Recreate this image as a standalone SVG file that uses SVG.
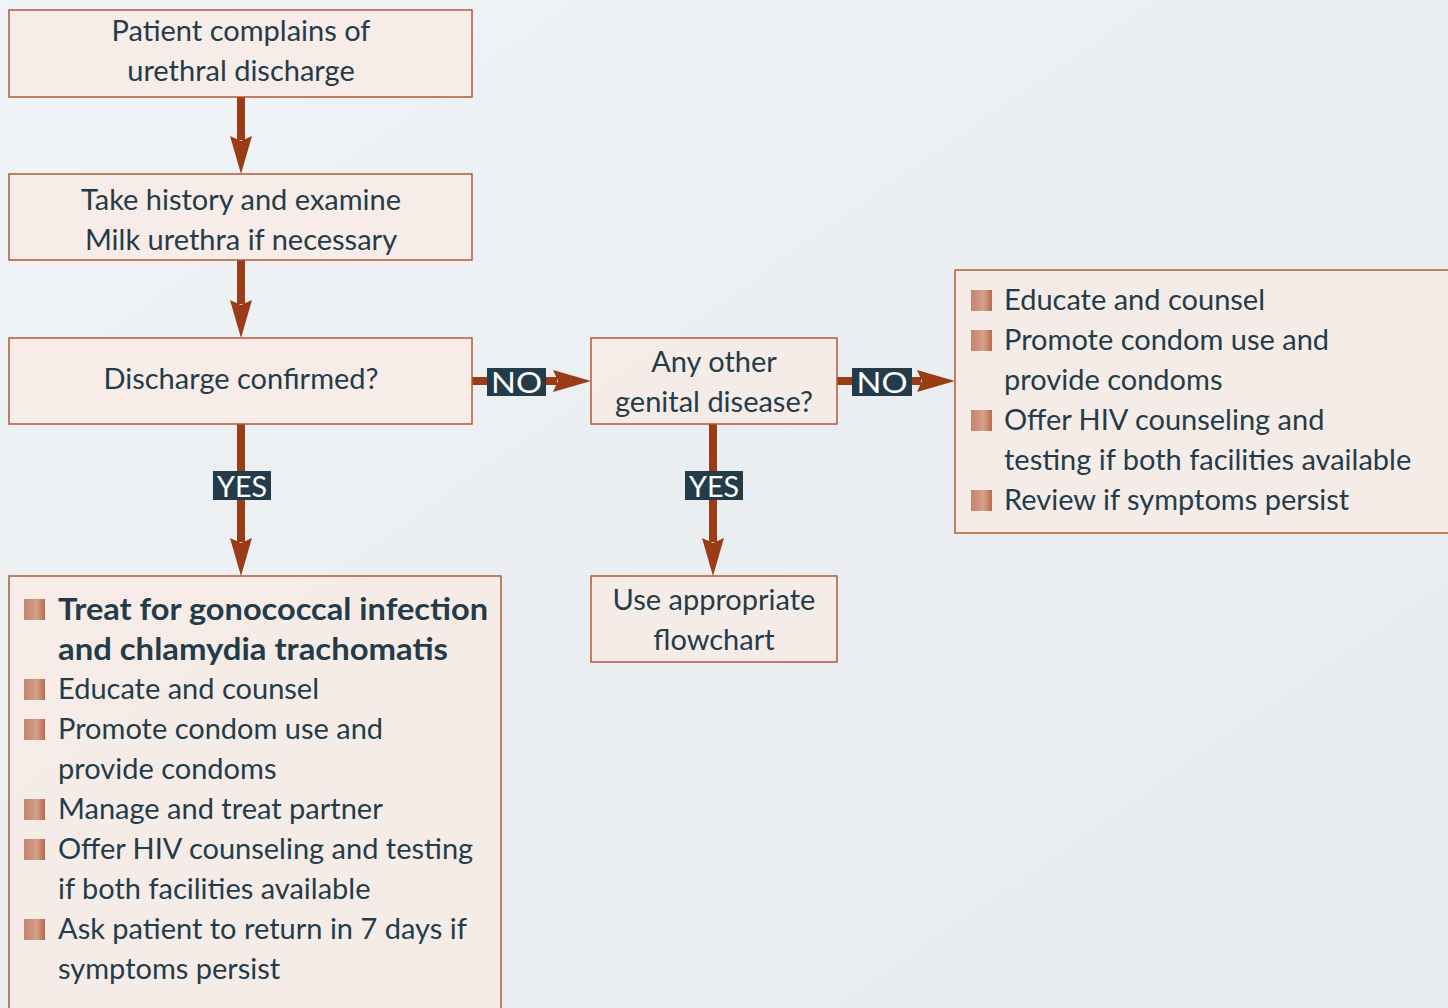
<svg xmlns="http://www.w3.org/2000/svg" width="1448" height="1008" viewBox="0 0 1448 1008">
<defs>
<linearGradient id="bg" x1="0" y1="0" x2="1" y2="1">
<stop offset="0" stop-color="#f1f4f7"/>
<stop offset="0.5" stop-color="#ebeef1"/>
<stop offset="1" stop-color="#e9ecee"/>
</linearGradient>
<linearGradient id="bul" x1="0" y1="0" x2="1" y2="0">
<stop offset="0" stop-color="#c4836a"/>
<stop offset="0.6" stop-color="#d4a08c"/>
<stop offset="1" stop-color="#b8694c"/>
</linearGradient>
<marker id="ah" viewBox="0 0 38 22" refX="4" refY="11" markerWidth="38" markerHeight="22" markerUnits="userSpaceOnUse" orient="auto">
<path d="M0,0 L38,11 L0,22 L5,11 Z" fill="#9a3c18"/>
</marker>
<style>
.box{fill:#f7ebe6;fill-opacity:0.9;stroke:#b35a3a;stroke-width:1.5}
.t{font-family:Lato,"Open Sans","Liberation Sans",sans-serif;font-size:29px;fill:#243c4a}
.c{text-anchor:middle}
.b{font-weight:bold;font-size:30px}
.line{stroke:#9a3c18;stroke-width:8;fill:none}
.lab{fill:#243c4a}
.lt{font-family:Lato,"Open Sans","Liberation Sans",sans-serif;font-size:29px;fill:#ffffff;text-anchor:middle}
.sq{fill:url(#bul)}
</style>
</defs>
<rect x="0" y="0" width="1448" height="1008" fill="url(#bg)"/>
<g id="connectors">
<line class="line" x1="241" y1="97" x2="241" y2="140" marker-end="url(#ah)"/>
<line class="line" x1="241" y1="260" x2="241" y2="304" marker-end="url(#ah)"/>
<line class="line" x1="472" y1="381" x2="557" y2="381" marker-end="url(#ah)"/>
<line class="line" x1="837" y1="381" x2="921" y2="381" marker-end="url(#ah)"/>
<line class="line" x1="241" y1="424" x2="241" y2="542" marker-end="url(#ah)"/>
<line class="line" x1="713" y1="424" x2="713" y2="542" marker-end="url(#ah)"/>
<rect class="lab" x="487" y="368" width="59" height="28"/>
<text class="lt" x="516.5" y="393" textLength="51" lengthAdjust="spacingAndGlyphs">NO</text>
<rect class="lab" x="852" y="368" width="60" height="28"/>
<text class="lt" x="882" y="393" textLength="51" lengthAdjust="spacingAndGlyphs">NO</text>
<rect class="lab" x="213" y="471" width="58" height="29"/>
<text class="lt" x="242" y="497" textLength="50" lengthAdjust="spacingAndGlyphs">YES</text>
<rect class="lab" x="685" y="471" width="58" height="29"/>
<text class="lt" x="714" y="497" textLength="50" lengthAdjust="spacingAndGlyphs">YES</text>
</g>
<g id="n1">
<rect class="box" x="9" y="10" width="463" height="87"/>
<text class="t c" x="241" y="41">Patient complains of</text>
<text class="t c" x="241" y="81">urethral discharge</text>
</g>
<g id="n2">
<rect class="box" x="9" y="174" width="463" height="86"/>
<text class="t c" x="241" y="210">Take history and examine</text>
<text class="t c" x="241" y="250">Milk urethra if necessary</text>
</g>
<g id="n3">
<rect class="box" x="9" y="338" width="463" height="86"/>
<text class="t c" x="241" y="389">Discharge confirmed?</text>
</g>
<g id="n4">
<rect class="box" x="591" y="338" width="246" height="86"/>
<text class="t c" x="714" y="372">Any other</text>
<text class="t c" x="714" y="412">genital disease?</text>
</g>
<g id="n5">
<rect class="box" x="955" y="270" width="500" height="263"/>
<rect class="sq" x="971" y="290" width="21" height="21"/>
<text class="t" x="1004" y="310">Educate and counsel</text>
<rect class="sq" x="971" y="330" width="21" height="21"/>
<text class="t" x="1004" y="350">Promote condom use and</text>
<text class="t" x="1004" y="390">provide condoms</text>
<rect class="sq" x="971" y="410" width="21" height="21"/>
<text class="t" x="1004" y="430">Offer HIV counseling and</text>
<text class="t" x="1004" y="470">testing if both facilities available</text>
<rect class="sq" x="971" y="490" width="21" height="21"/>
<text class="t" x="1004" y="510">Review if symptoms persist</text>
</g>
<g id="n6">
<rect class="box" x="591" y="576" width="246" height="86"/>
<text class="t c" x="714" y="610">Use appropriate</text>
<text class="t c" x="714" y="650">flowchart</text>
</g>
<g id="n7">
<rect class="box" x="9" y="576" width="492" height="440"/>
<rect class="sq" x="24" y="599" width="21" height="21"/>
<text class="t b" x="58" y="620" textLength="430" lengthAdjust="spacingAndGlyphs">Treat for gonococcal infection</text>
<text class="t b" x="58" y="660" textLength="390" lengthAdjust="spacingAndGlyphs">and chlamydia trachomatis</text>
<rect class="sq" x="24" y="679" width="21" height="21"/>
<text class="t" x="58" y="699">Educate and counsel</text>
<rect class="sq" x="24" y="719" width="21" height="21"/>
<text class="t" x="58" y="739">Promote condom use and</text>
<text class="t" x="58" y="779">provide condoms</text>
<rect class="sq" x="24" y="799" width="21" height="21"/>
<text class="t" x="58" y="819">Manage and treat partner</text>
<rect class="sq" x="24" y="839" width="21" height="21"/>
<text class="t" x="58" y="859">Offer HIV counseling and testing</text>
<text class="t" x="58" y="899">if both facilities available</text>
<rect class="sq" x="24" y="919" width="21" height="21"/>
<text class="t" x="58" y="939">Ask patient to return in 7 days if</text>
<text class="t" x="58" y="979">symptoms persist</text>
</g>
</svg>
